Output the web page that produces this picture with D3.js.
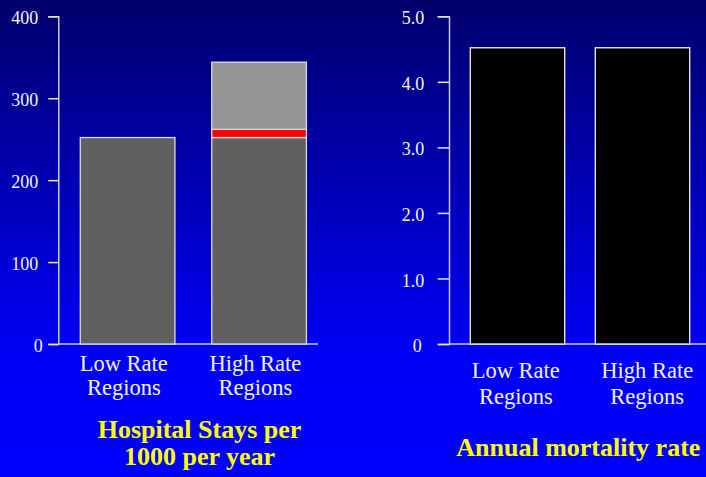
<!DOCTYPE html>
<html>
<head>
<meta charset="utf-8">
<script src="https://cdn.jsdelivr.net/npm/d3@7"></script>
<style>
  html, body { margin: 0; padding: 0; overflow: hidden; background: #0000ff; }
  svg { display: block; font-family: "Liberation Serif", "Times New Roman", serif; }
</style>
</head>
<body>
<svg id="chart"></svg>
<script>
// data
const categories = ["Low Rate Regions", "High Rate Regions"];
const categoryLines = [["Low Rate", "Regions"], ["High Rate", "Regions"]];

// hospital stays per 1000 per year, stacked
const staysBase = [252, 252];
const staysRed = [0, 10];
const staysExtra = [0, 82];
const staysTicks = [0, 100, 200, 300, 400];

// annual mortality rate
const mortality = [4.52, 4.52];
const mortalityTicks = [0, 1, 2, 3, 4, 5];

const leftTitle = ["Hospital Stays per", "1000 per year"];
const rightTitle = ["Annual mortality rate"];

const width = 706;
const height = 477;

const svg = d3.select('#chart')
  .attr('width', width)
  .attr('height', height);

// background gradient
const grad = svg.append('defs').append('linearGradient')
  .attr('id', 'bg')
  .attr('x1', 0).attr('y1', 0).attr('x2', 0).attr('y2', 1);
grad.append('stop').attr('offset', '0%').attr('stop-color', '#00006c');
grad.append('stop').attr('offset', '74%').attr('stop-color', '#0000f6');
grad.append('stop').attr('offset', '100%').attr('stop-color', '#0000ff');
svg.append('rect').attr('width', width).attr('height', height).attr('fill', 'url(#bg)');

const axisColor = '#c9c9e6';
const textColor = '#f4f4f4';

function styleAxis(g) {
  g.attr('font-family', null);
  g.select('.domain').attr('stroke', axisColor).attr('stroke-width', 1.5);
  g.selectAll('.tick line').attr('stroke', '#e6e6f0').attr('stroke-width', 1.5);
  g.selectAll('.tick text')
    .attr('fill', textColor)
    .attr('font-size', 18)
    .attr('font-family', '"Liberation Serif", "Times New Roman", serif')
    .attr('dy', '0.42em');
}

// ---------- left chart: hospital stays ----------
const yLeft = d3.scaleLinear().domain([0, 400]).range([344, 16.3]);
const xLeft = d3.scaleBand().domain(categories).range([80.3, 306.4]).paddingInner(0.28).paddingOuter(0);
const labelLeft = d3.scalePoint().domain(categories).range([123.8, 255.4]);

const stackData = categories.map((c, i) => ({
  cat: c, base: staysBase[i], red: staysRed[i], extra: staysExtra[i]
}));
const series = d3.stack().keys(['base', 'red', 'extra'])(stackData);
const segColor = { base: '#606060', red: '#ff0000', extra: '#959595' };

const left = svg.append('g');

// x axis line
left.append('line')
  .attr('x1', 58.3).attr('x2', 318)
  .attr('y1', yLeft(0)).attr('y2', yLeft(0))
  .attr('stroke', axisColor).attr('stroke-width', 1.5);

left.selectAll('g.series')
  .data(series)
  .enter().append('g')
  .attr('class', 'series')
  .attr('fill', d => segColor[d.key])
  .selectAll('rect')
  .data(d => d.filter(s => s[1] - s[0] > 0))
  .enter().append('rect')
  .attr('x', d => xLeft(d.data.cat))
  .attr('y', d => yLeft(d[1]))
  .attr('width', xLeft.bandwidth())
  .attr('height', d => yLeft(d[0]) - yLeft(d[1]))
  .attr('stroke', '#dcdcdc')
  .attr('stroke-width', 1.3);

left.append('g')
  .attr('transform', 'translate(58.3,0)')
  .call(d3.axisLeft(yLeft).tickValues(staysTicks).tickSize(10).tickPadding(10).tickFormat(d3.format('d')))
  .call(styleAxis)
  .call(g => g.selectAll('.tick text').filter(d => d === 0).attr('dx', 4.4));

left.selectAll('text.cat')
  .data(categories)
  .enter().append('text')
  .attr('class', 'cat')
  .attr('x', d => labelLeft(d))
  .attr('y', 371)
  .attr('text-anchor', 'middle')
  .attr('fill', textColor)
  .attr('font-size', 22.5)
  .selectAll('tspan')
  .data(d => categoryLines[categories.indexOf(d)].map(t => ({ t, x: labelLeft(d) })))
  .enter().append('tspan')
  .attr('x', d => d.x)
  .attr('dy', (d, i) => i === 0 ? 0 : 24)
  .text(d => d.t);

left.append('text')
  .attr('x', 199.5)
  .attr('y', 437.7)
  .attr('text-anchor', 'middle')
  .attr('fill', '#ffff00')
  .attr('font-weight', 'bold')
  .attr('font-size', 26)
  .selectAll('tspan')
  .data(leftTitle)
  .enter().append('tspan')
  .attr('x', 199.5)
  .attr('dy', (d, i) => i === 0 ? 0 : 27.3)
  .text(d => d);

// ---------- right chart: mortality ----------
const yRight = d3.scaleLinear().domain([0, 5]).range([344, 16.3]);
const xRight = d3.scaleBand().domain(categories).range([470.3, 689.7]).paddingInner(0.245).paddingOuter(0);
const labelRight = d3.scalePoint().domain(categories).range([515.8, 647.2]);

const right = svg.append('g');

right.append('line')
  .attr('x1', 449).attr('x2', 720)
  .attr('y1', yRight(0)).attr('y2', yRight(0))
  .attr('stroke', axisColor).attr('stroke-width', 1.5);

right.selectAll('rect.bar')
  .data(mortality)
  .enter().append('rect')
  .attr('class', 'bar')
  .attr('x', (d, i) => xRight(categories[i]))
  .attr('y', d => yRight(d))
  .attr('width', xRight.bandwidth())
  .attr('height', d => yRight(0) - yRight(d))
  .attr('fill', '#000000')
  .attr('stroke', '#f4f4f4')
  .attr('stroke-width', 1.3);

right.append('g')
  .attr('transform', 'translate(449,0)')
  .call(d3.axisLeft(yRight).tickValues(mortalityTicks).tickSize(11.3).tickPadding(13.4)
    .tickFormat(d => d === 0 ? '0' : d3.format('.1f')(d)))
  .call(styleAxis)
  .call(g => g.selectAll('.tick text').filter(d => d === 0).attr('dx', -2.6));

right.selectAll('text.cat')
  .data(categories)
  .enter().append('text')
  .attr('class', 'cat')
  .attr('y', 377.7)
  .attr('text-anchor', 'middle')
  .attr('fill', textColor)
  .attr('font-size', 22.5)
  .selectAll('tspan')
  .data(d => categoryLines[categories.indexOf(d)].map(t => ({ t, x: labelRight(d) })))
  .enter().append('tspan')
  .attr('x', d => d.x)
  .attr('dy', (d, i) => i === 0 ? 0 : 26.3)
  .text(d => d.t);

right.append('text')
  .attr('x', 578.3)
  .attr('y', 456)
  .attr('text-anchor', 'middle')
  .attr('fill', '#ffff00')
  .attr('font-weight', 'bold')
  .attr('font-size', 26)
  .selectAll('tspan')
  .data(rightTitle)
  .enter().append('tspan')
  .attr('x', 578.3)
  .text(d => d);
</script>
</body>
</html>
